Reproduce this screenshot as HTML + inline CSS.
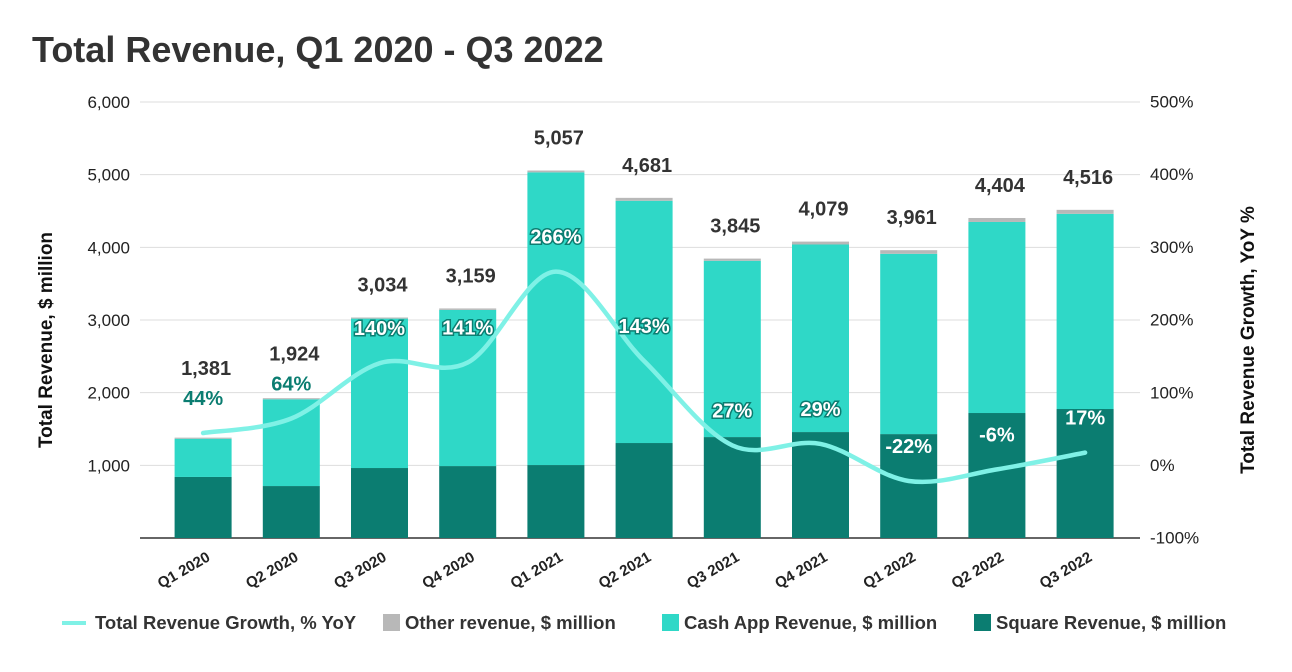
<!DOCTYPE html>
<html><head><meta charset="utf-8">
<style>
body{margin:0;background:#fff;width:1292px;height:667px;overflow:hidden;font-family:"Liberation Sans",Arial,sans-serif;}
</style></head>
<body>
<svg id="chart" width="1292" height="667" xmlns="http://www.w3.org/2000/svg" font-family="Liberation Sans, Arial, sans-serif">
<text x="32" y="62" font-size="36" font-weight="bold" fill="#333">Total Revenue, Q1 2020 - Q3 2022</text>
<g id="grid"></g><g id="bars"></g><g id="line"></g><g id="labels"></g>
<text transform="translate(52,340) rotate(-90)" text-anchor="middle" font-size="19" font-weight="bold" fill="#111">Total Revenue, $ million</text>
<text transform="translate(1254,340) rotate(-90)" text-anchor="middle" font-size="19" font-weight="bold" fill="#111">Total Revenue Growth, YoY %</text>
<g font-size="18.5" font-weight="bold" fill="#333">
 <line x1="62" y1="623" x2="86" y2="623" stroke="#7ff1e6" stroke-width="4"/>
 <text x="95" y="629">Total Revenue Growth, % YoY</text>
 <rect x="383" y="614" width="17" height="17" fill="#b8b8b8"/>
 <text x="405" y="629">Other revenue, $ million</text>
 <rect x="662" y="614" width="17" height="17" fill="#2fd8c7"/>
 <text x="684" y="629">Cash App Revenue, $ million</text>
 <rect x="974" y="614" width="17" height="17" fill="#0b7d71"/>
 <text x="996" y="629">Square Revenue, $ million</text>
</g>
</svg>
<script>
const categories=["Q1 2020","Q2 2020","Q3 2020","Q4 2020","Q1 2021","Q2 2021","Q3 2021","Q4 2021","Q1 2022","Q2 2022","Q3 2022"];
const totals=[1381,1924,3034,3159,5057,4681,3845,4079,3961,4404,4516];
const square=[840,715,963,990,1004,1307,1389,1458,1430,1720,1775];
const other=[15,15,15,20,25,40,30,40,50,55,55];
const growth=[44,64,140,141,266,143,27,29,-22,-6,17];
const leftTicks=[0,1000,2000,3000,4000,5000,6000];
const rightTicks=[-100,0,100,200,300,400,500];
const NS="http://www.w3.org/2000/svg";
const gx0=140,gx1=1140,bx0=159,step=88.2,bw=57;
const yL=v=>538-v*(436/6000);
const yR=v=>465-v*0.727;
const xC=i=>bx0+step*(i+0.5);
function mk(tag,attrs,parent,txt){const e=document.createElementNS(NS,tag);for(const k in attrs)e.setAttribute(k,attrs[k]);if(txt!==undefined)e.textContent=txt;document.getElementById(parent).appendChild(e);return e;}
leftTicks.forEach(t=>{
 const l=mk('line',{x1:gx0,x2:gx1,y1:yL(t),y2:yL(t),stroke:t===0?'#333':'#ddd','stroke-width':t===0?1.5:1},'grid');
 
 
 const tx=mk('text',{x:130,y:yL(t)+6,'text-anchor':'end','font-size':17,fill:'#222'},'grid',t===0?'':t.toLocaleString('en-US'));
 
 
});
rightTicks.forEach(t=>{
 const tx=mk('text',{x:1150,y:yR(t)+6,'font-size':17,fill:'#222'},'grid',t+'%');
 
 
});
categories.forEach((c,i)=>{
 const cx=xC(i),cash=totals[i]-square[i]-other[i];
 const r1=mk('rect',{x:cx-bw/2,y:yL(square[i]),width:bw,height:yL(0)-yL(square[i]),fill:'#0b7d71'},'bars');
 
 
 const r2=mk('rect',{x:cx-bw/2,y:yL(square[i]+cash),width:bw,height:yL(square[i])-yL(square[i]+cash),fill:'#2fd8c7'},'bars');
 
 
 const r3=mk('rect',{x:cx-bw/2,y:yL(totals[i]),width:bw,height:yL(square[i]+cash)-yL(totals[i]),fill:'#b8b8b8'},'bars');
 
 
 let ly=yL(totals[i])-26;
 const gy=yR(growth[i])-28;
 if(Math.abs(ly-gy)<30) ly=gy-30;
 const tl=mk('text',{x:cx+3,y:ly,'text-anchor':'middle','font-size':20,'font-weight':'bold',fill:'#333'},'labels',totals[i].toLocaleString('en-US'));
 
 
 const xl=mk('text',{transform:`translate(${cx+8},${560}) rotate(-30)`,'text-anchor':'end','font-size':15,'font-weight':'bold',fill:'#222'},'labels',c);
 
 
});
const pts=growth.map((g,i)=>[xC(i),yR(g)]);
let d=`M${pts[0][0]},${pts[0][1]}`;
for(let i=0;i<pts.length-1;i++){
 const p0=pts[i-1]||pts[i],p1=pts[i],p2=pts[i+1],p3=pts[i+2]||p2;
 d+=` C${p1[0]+(p2[0]-p0[0])/6},${p1[1]+(p2[1]-p0[1])/6} ${p2[0]-(p3[0]-p1[0])/6},${p2[1]-(p3[1]-p1[1])/6} ${p2[0]},${p2[1]}`;
}
const ln=mk('path',{d:d,fill:'none',stroke:'#7ff1e6','stroke-width':4.5,'stroke-linecap':'round'},'line');


growth.forEach((g,i)=>{
 const onBar=i>=2;
 const attrs={x:xC(i),y:yR(g)-28,'text-anchor':'middle','font-size':20,'font-weight':'bold'};
 if(onBar){attrs.fill='#fff';attrs.stroke='#0b7d71';attrs['stroke-width']=3;attrs['paint-order']='stroke';}
 else attrs.fill='#0b7d71';
 const t=mk('text',attrs,'labels',g+'%');
 
 
});
</script>
</body></html>
